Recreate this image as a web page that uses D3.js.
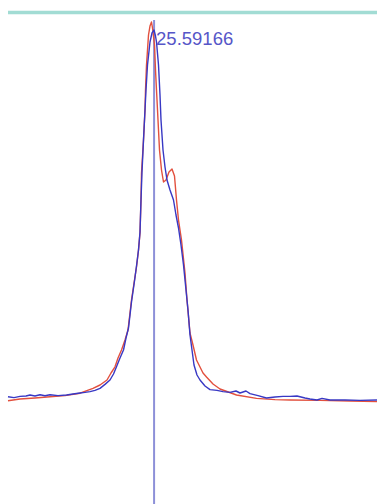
<!DOCTYPE html>
<html>
<head>
<meta charset="utf-8">
<script src="https://cdn.jsdelivr.net/npm/d3@7"></script>
<style>
  html, body { margin: 0; padding: 0; background: #fff; }
  svg { display: block; }
</style>
</head>
<body>
<div id="chart"></div>
<script>
// retention time (min) / intensity (%)
var redTime = [22.67, 22.91, 23.21, 23.51, 23.81, 24.11, 24.37, 24.51, 24.65, 24.73, 24.81, 24.87, 24.94, 25.01, 25.07,
  25.14, 25.20, 25.24, 25.28, 25.31, 25.33, 25.34, 25.38, 25.41, 25.42, 25.44, 25.48, 25.51, 25.54, 25.56,
  25.60, 25.62, 25.64, 25.67, 25.70, 25.74, 25.78, 25.83, 25.89, 25.95, 26.00, 26.04, 26.08, 26.14, 26.21,
  26.25, 26.31, 26.37, 26.44, 26.57, 26.64, 26.77, 26.91, 27.24, 27.64, 28.01, 28.31, 28.91, 29.51, 30.05];
var redValue = [4.8, 5.25, 5.5, 5.8, 6.1, 6.7, 7.9, 8.75, 10.0, 11.75, 13.3, 15.5, 17.5, 20.0, 22.5,
  30.0, 35.0, 38.25, 42.5, 46.75, 55.0, 61.75, 70.0, 77.5, 82.5, 88.75, 96.25, 98.5, 99.5, 98.0,
  93.75, 87.5, 82.5, 75.0, 67.5, 62.5, 59.5, 60.0, 62.0, 62.75, 61.0, 55.0, 50.0, 45.0, 36.75,
  30.0, 21.75, 18.75, 15.0, 11.75, 10.75, 9.0, 7.75, 6.25, 5.4, 5.1, 5.0, 4.9, 4.75, 4.6];

var blueTime = [22.67, 22.79, 22.91, 23.03, 23.11, 23.21, 23.31, 23.41, 23.51, 23.67, 23.84, 23.97, 24.11, 24.21, 24.31,
  24.41, 24.51, 24.61, 24.71, 24.78, 24.84, 24.91, 24.98, 25.03, 25.08, 25.14, 25.20, 25.24, 25.28, 25.31,
  25.33, 25.35, 25.38, 25.41, 25.43, 25.46, 25.51, 25.55, 25.59, 25.62, 25.64, 25.68, 25.71, 25.73, 25.77,
  25.81, 25.85, 25.91, 25.98, 26.03, 26.08, 26.13, 26.18, 26.23, 26.27, 26.31, 26.35, 26.39, 26.45, 26.51,
  26.61, 26.71, 26.85, 26.97, 27.11, 27.23, 27.31, 27.43, 27.51, 27.67, 27.84, 28.01, 28.17, 28.31, 28.45,
  28.61, 28.71, 28.85, 28.95, 29.11, 29.41, 29.71, 30.05];
var blueValue = [5.8, 5.6, 5.9, 6.0, 6.25, 6.0, 6.3, 6.05, 6.3, 6.1, 6.25, 6.5, 6.75, 6.9, 7.1,
  7.4, 7.9, 8.9, 10.0, 11.5, 13.3, 15.5, 17.5, 20.5, 23.0, 29.5, 34.75, 38.5, 42.5, 47.0,
  55.0, 62.0, 70.0, 77.5, 82.5, 88.75, 94.5, 96.75, 97.5, 96.0, 94.5, 88.75, 81.25, 75.0, 67.5,
  63.25, 60.0, 57.5, 55.0, 51.25, 48.0, 43.75, 38.75, 32.5, 27.5, 21.25, 17.5, 13.75, 11.25, 10.0,
  8.5, 7.6, 7.4, 7.1, 6.9, 7.25, 6.75, 7.25, 6.6, 6.1, 5.5, 5.75, 5.9, 5.9, 6.0,
  5.5, 5.25, 5.0, 5.4, 5.0, 5.0, 4.9, 5.0];

var cursorTime = 25.59166;
var cursorLabel = "25.59166";

var svgWidth = 377;
var svgHeight = 504;

var svg = d3.select("#chart")
  .append("svg")
  .attr("width", svgWidth)
  .attr("height", svgHeight);

var xScale = d3.scaleLinear()
  .domain([22.67, 30.05])
  .range([8, 377]);

var yScale = d3.scaleLinear()
  .domain([0, 100])
  .range([420, 20]);

// top frame line
svg.append("line")
  .attr("x1", 8)
  .attr("x2", svgWidth)
  .attr("y1", 12.5)
  .attr("y2", 12.5)
  .attr("stroke", "#a2dcd4")
  .attr("stroke-width", 3.5);

var line = d3.line()
  .x(d => xScale(d[0]))
  .y(d => yScale(d[1]))
  .curve(d3.curveLinear);

var red = d3.zip(redTime, redValue);
var blue = d3.zip(blueTime, blueValue);

// cursor
svg.append("line")
  .attr("x1", xScale(cursorTime))
  .attr("x2", xScale(cursorTime))
  .attr("y1", 20)
  .attr("y2", svgHeight)
  .attr("stroke", "#8d90d8")
  .attr("stroke-width", 2);

svg.append("path")
  .datum(red)
  .attr("d", line)
  .attr("fill", "none")
  .attr("stroke", "#e2503e")
  .attr("stroke-width", 1.4)
  .attr("stroke-linejoin", "round");

svg.append("path")
  .datum(blue)
  .attr("d", line)
  .attr("fill", "none")
  .attr("stroke", "#3838c4")
  .attr("stroke-width", 1.4)
  .attr("stroke-linejoin", "round");

svg.append("text")
  .attr("x", xScale(cursorTime) + 2)
  .attr("y", 45)
  .attr("font-family", "Liberation Sans, Arial, sans-serif")
  .attr("font-size", "18.5px")
  .attr("fill", "#5656c8")
  .text(cursorLabel);
</script>
</body>
</html>
